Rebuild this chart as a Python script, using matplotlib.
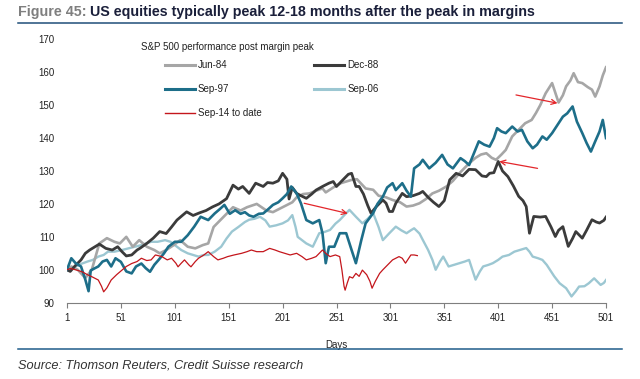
import matplotlib
matplotlib.use("Agg")
import matplotlib.pyplot as plt
from matplotlib.lines import Line2D

plt.rcParams['font.family'] = ['Liberation Sans', 'DejaVu Sans']

# ---------------- data ----------------
days_jun84 = [1, 5, 11, 18, 24, 31, 38, 45, 50, 56, 62, 68, 75, 82, 87, 93, 100, 106, 113, 120, 127, 132,
              137, 143, 149, 155, 162, 168, 177, 186, 192, 201, 210, 214, 220, 226, 232, 238, 241, 248, 255,
              260, 265, 270, 278, 285, 290, 297, 303, 310, 316, 322, 328, 334, 340, 346, 353, 359, 365, 370,
              374, 380, 385, 390, 395, 399, 404, 408, 414, 420, 426, 432, 436, 440, 445, 451, 457, 461, 464,
              468, 471, 475, 479, 484, 488, 491, 495, 498, 501]
vals_jun84 = [100, 101, 100, 97.5, 100, 108, 109.6, 108.5, 108, 110, 107, 109, 107, 106, 105, 106, 107.5, 109,
              107, 106.5, 107.5, 108, 113, 115, 117, 119, 118, 119, 120, 118, 117.5, 119, 120.5, 122, 123,
              123.2, 124, 124.7, 123.5, 125, 126.3, 126.8, 127.3, 127.5, 124.7, 124.3, 122.5, 122, 121.2,
              120.5, 119.2, 119.5, 120.2, 121.5, 123.2, 124, 125.3, 127, 129.3, 131, 132.3, 134, 135, 135.4,
              134, 133.4, 135, 136.4, 140.5, 142.5, 144.5, 145.5, 147.6, 150, 153.6, 156.7, 150.8, 153, 155.7,
              157.5, 159.7, 157, 156.7, 155.5, 154.7, 152.6, 155.7, 159, 161.5]

days_dec88 = [1, 4, 8, 14, 18, 22, 27, 31, 37, 43, 48, 52, 56, 61, 66, 69, 75, 81, 87, 93, 98, 103, 108, 112,
              118, 124, 130, 136, 142, 149, 155, 160, 164, 170, 176, 183, 187, 192, 197, 201, 205, 207, 210,
              214, 218, 223, 228, 232, 238, 244, 248, 251, 256, 262, 265, 269, 272, 276, 280, 283, 288, 294,
              297, 300, 303, 306, 312, 316, 322, 328, 331, 336, 341, 346, 351, 356, 362, 368, 374, 380, 386,
              390, 393, 397, 401, 405, 410, 415, 420, 424, 427, 430, 434, 440, 445, 450, 454, 457, 461, 466,
              470, 473, 479, 483, 488, 492, 495, 499, 501]
vals_dec88 = [100, 99.5, 101, 103, 105, 106, 107, 107.8, 106.5, 106, 107, 105.5, 104.2, 104.5, 106, 106.6, 108,
              109.6, 111.6, 111, 113, 115.1, 116.5, 117.6, 116.5, 117.3, 118, 119.1, 120, 121.6, 125.7, 124.5,
              125.3, 123.2, 126.3, 125.3, 126.5, 126.3, 127, 129.3, 127.5, 121.5, 125, 123.2, 122.5, 121.7,
              123, 124.2, 125.3, 126.3, 126.8, 125.3, 127, 129, 129.3, 125.3, 125.3, 123, 119.5, 117.2, 119.2,
              121.2, 120.2, 117.7, 117.7, 120.2, 123.2, 122.2, 122.5, 123.2, 123.8, 122, 120.5, 119.2, 121,
              127.3, 129.3, 128.5, 130.5, 130.4, 128.5, 128.3, 129.3, 129.5, 132.9, 130, 128.3, 125.5, 122.3,
              121, 119.2, 111.1, 116.2, 116, 116.2, 113, 110.1, 112, 113.1, 107.1, 109.5, 111.6, 109.6, 112,
              115.2, 114.5, 114.2, 115, 116]

days_sep97 = [1, 5, 9, 14, 18, 21, 23, 27, 30, 34, 38, 42, 46, 51, 56, 61, 65, 70, 74, 78, 82, 86, 91, 95, 101,
              107, 113, 119, 125, 132, 138, 143, 147, 152, 157, 162, 166, 170, 174, 179, 183, 188, 192, 197,
              201, 205, 209, 214, 218, 223, 229, 235, 238, 241, 244, 249, 254, 260, 265, 269, 274, 278, 285,
              289, 294, 298, 303, 306, 312, 316, 320, 323, 328, 331, 337, 343, 349, 354, 359, 366, 370, 374,
              378, 383, 388, 393, 397, 400, 404, 408, 414, 419, 423, 428, 433, 437, 442, 446, 451, 456, 461,
              465, 470, 474, 479, 483, 487, 491, 495, 498, 501]
vals_sep97 = [100, 103.5, 102, 101, 97, 93.5, 99.8, 100.5, 101, 102.5, 103, 101, 103.5, 102.4, 99.5, 98.9, 101,
              101.9, 100.5, 99.4, 101.5, 103, 105, 107, 108.5, 108.5, 110.5, 113.1, 116.1, 115.1, 117.1, 118.5,
              119.7, 117, 118.1, 117, 117.5, 116.5, 116.1, 117, 117.1, 118.5, 119.7, 120.5, 121.7, 123, 125.3,
              123.2, 120.2, 115.1, 114.1, 115.1, 111.1, 102, 107, 107, 111.1, 111.1, 106, 102, 109, 114.1,
              117.2, 120, 122.2, 125, 126.3, 124.2, 126.3, 124, 122.2, 130.8, 132, 133.4, 130.8, 132.5, 134.9,
              132, 130.8, 133.9, 133, 131.8, 135, 139, 138, 137.4, 140, 143, 142, 141.5, 143.5, 142, 142.5,
              139, 136.9, 138, 140.5, 139.5, 141.5, 144, 146.5, 147.5, 149.6, 145, 141.5, 138.5, 135.9, 139,
              142, 145.5, 140]

days_sep06 = [1, 4, 9, 15, 20, 25, 30, 35, 39, 45, 52, 58, 64, 70, 79, 85, 92, 97, 101, 107, 113, 118, 123, 128,
              132, 138, 144, 149, 154, 160, 166, 170, 175, 180, 185, 189, 195, 201, 206, 210, 213, 215, 219,
              223, 229, 235, 240, 245, 250, 254, 258, 263, 269, 275, 280, 285, 290, 294, 300, 306, 311, 316,
              320, 323, 328, 331, 336, 340, 343, 347, 350, 355, 360, 365, 370, 374, 378, 380, 384, 387, 392,
              396, 401, 405, 411, 416, 421, 427, 430, 433, 438, 442, 446, 449, 453, 458, 464, 469, 473, 476,
              481, 485, 490, 496, 499, 501]
vals_sep06 = [100, 100.4, 101, 101.9, 102.5, 103, 104, 104.5, 105.5, 105.5, 106, 106.5, 107, 107.5, 108.5, 108.5,
              109, 108.5, 107.5, 106, 105, 104.5, 104, 104.5, 104.5, 105.5, 107, 109.5, 111.6, 113, 114.5,
              115.2, 115.5, 116.1, 115, 113.1, 113.5, 114.1, 115, 116.6, 113, 110, 109, 108, 107, 111.1, 111.5,
              112.1, 114, 115.1, 116.5, 118.2, 116.1, 114.1, 115.5, 117.2, 113, 109, 111.1, 113.1, 112, 111.1,
              112, 112.6, 111, 109.1, 106, 103, 100, 102.5, 104, 101, 101.5, 102, 102.5, 103, 99, 97, 99.5,
              101, 101.5, 102, 103, 104, 104.5, 105.5, 106, 106.6, 105.5, 104, 103.5, 103, 101.5, 100, 98,
              95.9, 94.4, 91.9, 93.5, 94.9, 95, 95.9, 97.4, 95.4, 96, 96.9]

days_sep14 = [1, 4, 9, 15, 20, 24, 30, 33, 35, 38, 42, 47, 52, 56, 61, 66, 70, 75, 79, 83, 89, 94, 98, 102, 104,
              107, 110, 114, 116, 120, 123, 128, 132, 137, 141, 146, 150, 156, 163, 168, 172, 177, 183, 189,
              194, 198, 203, 208, 214, 219, 223, 228, 232, 235, 238, 241, 245, 250, 254, 256, 258, 259, 261,
              263, 266, 269, 272, 275, 279, 282, 284, 287, 291, 294, 297, 300, 303, 306, 309, 312, 315, 318,
              320, 323, 326]
vals_sep14 = [100, 100.4, 100, 99.4, 98.5, 97.9, 96.9, 95, 93.3, 94.5, 96.9, 98.5, 99.9, 101, 101.9, 102.5,
              103.5, 102.8, 103, 104.5, 104, 103, 103.5, 102, 100.9, 102, 103, 101.5, 100.9, 102.5, 103.5,
              104.5, 105.5, 104, 103, 103.5, 104, 104.5, 105, 105.5, 106, 105.5, 105.5, 106.5, 106, 105.5, 105,
              104.5, 105, 104, 103, 103.5, 104, 105, 106, 105, 104, 104.5, 104, 100, 95, 93.8, 96, 97.9, 97.5,
              98.9, 98, 99.9, 98.5, 96.5, 94.4, 96.5, 98.9, 100, 101, 102, 103, 103.5, 104, 103.5, 102, 103.5,
              104.5, 104.5, 104.3]

series_labels = ['Jun-84', 'Dec-88', 'Sep-97', 'Sep-06', 'Sep-14 to date']
x_ticks = [1, 51, 101, 151, 201, 251, 301, 351, 401, 451, 501]
y_ticks = [90, 100, 110, 120, 130, 140, 150, 160, 170]

# annotation arrows: (tail day, tail value, head day, head value)
arrows = [(221, 120.2, 261.5, 117.1),
          (437.5, 130.8, 402, 132.9),
          (417.5, 153.1, 456, 150.6)]

# ---------------- figure ----------------
W, H = 640, 379
fig = plt.figure(figsize=(W / 100, H / 100), dpi=100)
fig.patch.set_facecolor('white')

ax = fig.add_axes([67 / W, 1 - 302.7 / H, (606 - 67) / W, (302.7 - 39.3) / H])

c_gray = '#A6A6A6'
c_black = '#3B3B3B'
c_teal = '#1D6E89'
c_light = '#9CC7D2'
c_red = '#C4161C'

l_light, = ax.plot(days_sep06, vals_sep06, color=c_light, lw=1.7, label=series_labels[3], zorder=2)
l_gray, = ax.plot(days_jun84, vals_jun84, color=c_gray, lw=1.9, label=series_labels[0], zorder=3)
l_black, = ax.plot(days_dec88, vals_dec88, color=c_black, lw=2.0, label=series_labels[1], zorder=4)
l_teal, = ax.plot(days_sep97, vals_sep97, color=c_teal, lw=1.9, label=series_labels[2], zorder=5)
l_red, = ax.plot(days_sep14, vals_sep14, color=c_red, lw=0.9, label=series_labels[4], zorder=6)

for (x0, y0, x1, y1) in arrows:
    ax.annotate('', xy=(x1, y1), xytext=(x0, y0),
                arrowprops=dict(arrowstyle='->', color='#E3262B', lw=0.9,
                                mutation_scale=9, shrinkA=0, shrinkB=0), zorder=7)

ax.set_xlim(1, 501)
ax.set_ylim(90, 170)
ax.set_xticks(x_ticks)
ax.set_yticks(y_ticks)
ax.set_xticklabels([str(t) for t in x_ticks])
ax.set_yticklabels([str(t) for t in y_ticks])
for s in ['top', 'right', 'left']:
    ax.spines[s].set_visible(False)
ax.spines['bottom'].set_color('#7F7F7F')
ax.spines['bottom'].set_linewidth(0.8)
ax.tick_params(axis='x', direction='out', length=3.5, width=0.8, color='#7F7F7F',
               labelsize=7, pad=4, labelcolor='#222222')
ax.tick_params(axis='y', length=0, labelsize=7, pad=9, labelcolor='#222222')
ax.set_xlabel('Days', fontsize=7, color='#222222', labelpad=12)
ax.set_facecolor('white')

# legend
ax.text(141 / W, 1 - 47 / H, 'S&P 500 performance post margin peak', transform=fig.transFigure,
        fontsize=7, ha='left', va='center', color='#222222')
leg = ax.legend(handles=[l_gray, l_teal, l_red, l_black, l_light],
                labels=[series_labels[0], series_labels[2], series_labels[4], series_labels[1], series_labels[3]],
                ncol=2, frameon=False, fontsize=7, loc='upper left',
                bbox_to_anchor=(165 / W, 1 - 60 / H), bbox_transform=fig.transFigure,
                borderpad=0, borderaxespad=0, handlelength=3.1, handletextpad=0.3,
                labelspacing=1.45, columnspacing=5.4)
for h in leg.legend_handles:
    h.set_linewidth(2.2)
leg.legend_handles[2].set_linewidth(1.0)
for t in leg.get_texts():
    t.set_color('#222222')

# title (two colours)
t1 = fig.text(18 / W, 1 - 12 / H, 'Figure 45: ', fontsize=10.3, fontweight='bold', color='#7F7F7F',
              ha='left', va='center')
fig.canvas.draw()
bb = t1.get_window_extent()
fig.text(bb.x1 / W, 1 - 12 / H, 'US equities typically peak 12-18 months after the peak in margins',
         fontsize=10.3, fontweight='bold', color='#1A1F3A', ha='left', va='center')

fig.add_artist(Line2D([18 / W, 622 / W], [1 - 22.5 / H, 1 - 22.5 / H], color='#1F4E79', lw=1.1))
fig.add_artist(Line2D([18 / W, 622 / W], [1 - 349 / H, 1 - 349 / H], color='#1F5C8A', lw=1.1))

fig.text(18 / W, 1 - 365 / H, 'Source: Thomson Reuters, Credit Suisse research', fontsize=9.2,
         fontstyle='italic', color='#333333', ha='left', va='center')

fig.savefig('out.png', dpi=100, facecolor='white')
